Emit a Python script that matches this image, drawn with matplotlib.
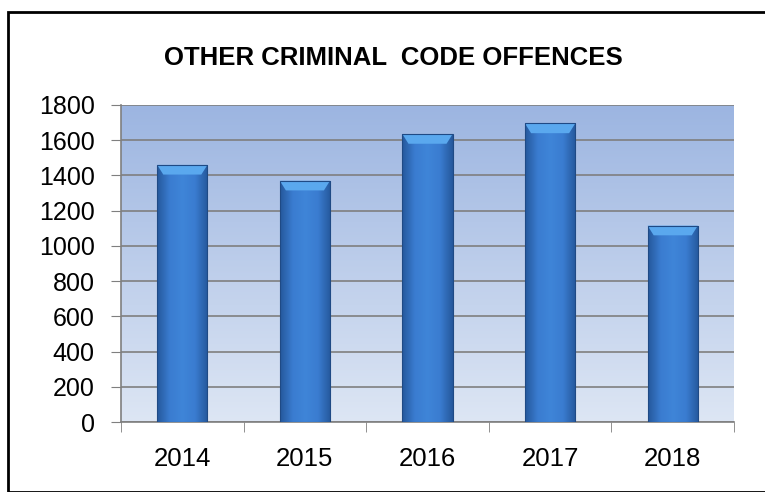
import numpy as np
import matplotlib.pyplot as plt
from matplotlib.colors import LinearSegmentedColormap
from matplotlib.patches import Polygon, Rectangle

years = ['2014', '2015', '2016', '2017', '2018']
offences = [1460, 1370, 1635, 1695, 1115]

plt.rcParams['font.family'] = ['Liberation Sans', 'DejaVu Sans']

fig = plt.figure(figsize=(7.65, 4.92), dpi=100)
# outer frame round the whole chart
fig.patches.append(Rectangle((8 / 765, 0), 1, 1 - 12 / 492, transform=fig.transFigure,
                             fill=False, edgecolor='black', linewidth=2))

ax = fig.add_axes([121 / 765, 70 / 492, 613 / 765, 317 / 492])
ax.set_xlim(-0.5, len(years) - 0.5)
ax.set_ylim(0, 1800)

# background: vertical gradient, darker at the top
bg = LinearSegmentedColormap.from_list('bg', ['#dde6f4', '#9cb5e1'])
ax.imshow(np.linspace(0, 1, 256).reshape(-1, 1), cmap=bg, origin='lower',
          extent=[-0.5, len(years) - 0.5, 0, 1800], aspect='auto', zorder=0)

ax.set_yticks(np.arange(0, 1801, 200))
ax.yaxis.grid(True, color='#7f7f7f', linewidth=1.2, zorder=1)
ax.set_axisbelow(True)

# bars with a horizontal shading and a bevelled top
barcmap = LinearSegmentedColormap.from_list('bar', ['#25589c', '#3a7cd0', '#3f85d8', '#3a7cd0', '#25589c'])
width = 0.41
bars = ax.bar(range(len(years)), offences, width=width, color='#3a7cd0', zorder=2)
for i, (b, v) in enumerate(zip(bars, offences)):
    im = ax.imshow(np.linspace(0, 1, 128).reshape(1, -1), cmap=barcmap, aspect='auto',
                   extent=[i - width / 2, i + width / 2, 0, v], zorder=3)
    im.set_clip_path(b)
    cap = 55
    ax.add_patch(Polygon([[i - width / 2, v], [i + width / 2, v],
                          [i + width / 2 - 0.05, v - cap], [i - width / 2 + 0.05, v - cap]],
                         closed=True, facecolor='#5aa8ee', edgecolor='none', zorder=4))
    ax.add_patch(Rectangle((i - width / 2, 0), width, v, fill=False,
                           edgecolor='#1f4a85', linewidth=0.8, zorder=5))

ax.set_xticks(range(len(years)))
ax.set_xticklabels(years)
ax.set_xticks(np.arange(-0.5, len(years)), minor=True)
ax.tick_params(axis='x', which='major', length=0, pad=18, labelsize=18.5)
ax.tick_params(axis='x', which='minor', length=7, color='#7f7f7f', direction='out')
ax.tick_params(axis='y', length=7, color='#7f7f7f', labelsize=18, pad=12)

for s in ['top', 'right']:
    ax.spines[s].set_visible(False)
for s in ['left', 'bottom']:
    ax.spines[s].set_color('#7f7f7f')
    ax.spines[s].set_linewidth(1.2)

fig.text(393 / 765, 1 - 58 / 492, 'OTHER CRIMINAL  CODE OFFENCES', ha='center', va='center',
         fontsize=18.5, fontweight='bold')

fig.savefig('out.png', dpi=100)
